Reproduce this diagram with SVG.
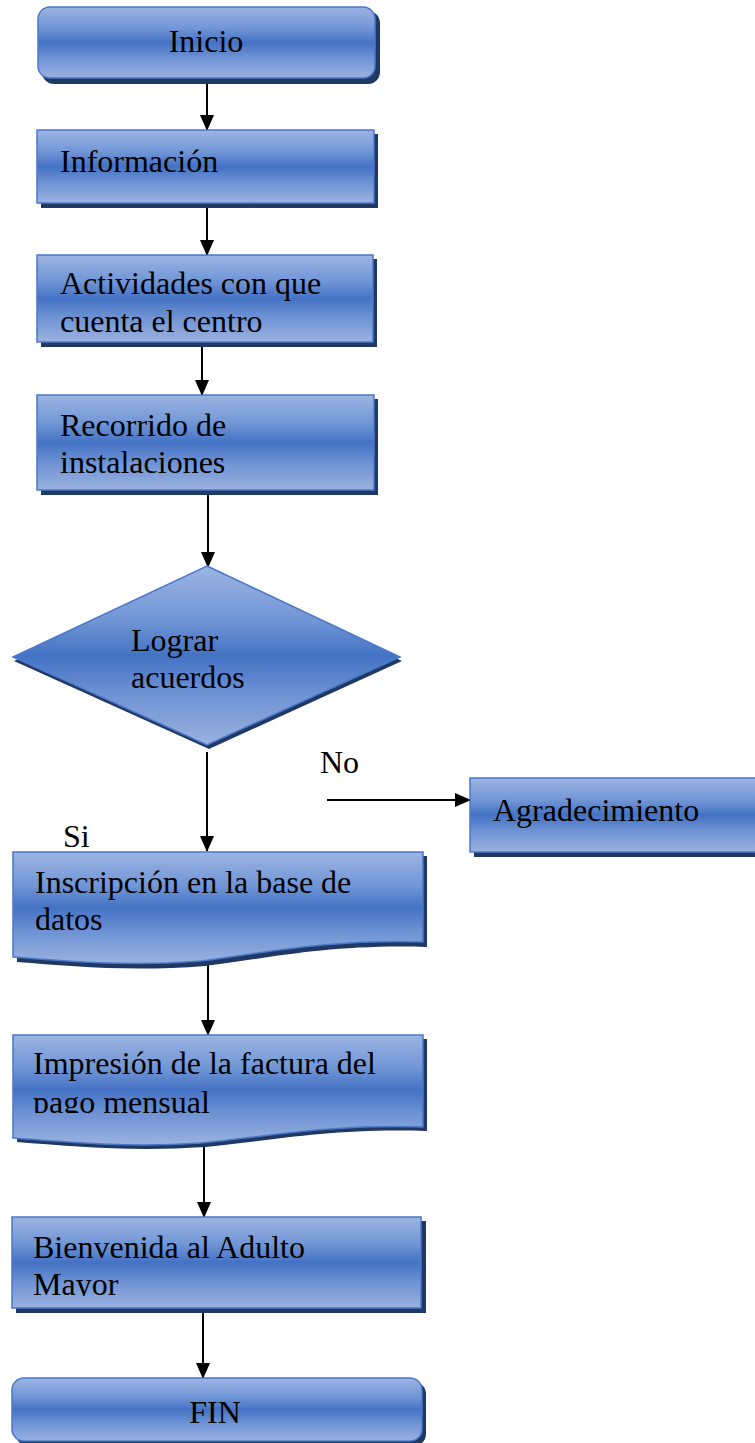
<svg xmlns="http://www.w3.org/2000/svg" width="755" height="1443" viewBox="0 0 755 1443">
<defs>
<linearGradient id="g" x1="0" y1="0" x2="0" y2="1">
<stop offset="0" stop-color="#9cb4e2"/>
<stop offset="0.3" stop-color="#7196d6"/>
<stop offset="0.5" stop-color="#4472c4"/>
<stop offset="0.72" stop-color="#6f93d4"/>
<stop offset="1" stop-color="#9ab2e0"/>
</linearGradient>
<marker id="arr" markerUnits="userSpaceOnUse" markerWidth="16" markerHeight="16" viewBox="0 0 16 16" refX="15" refY="8" orient="auto">
<path d="M0,1 L16,8 L0,15 Z" fill="#000"/>
</marker>
<clipPath id="c1"><rect x="13" y="1035" width="410" height="78"/></clipPath>
<clipPath id="c2"><rect x="12" y="1217" width="410" height="79"/></clipPath>
</defs>
<style>
.sh{fill:#1f3864}
.bx{fill:url(#g);stroke:#4a78c8;stroke-width:1.5}
.t{font-family:"Liberation Serif","Times New Roman",serif;font-size:32px;fill:#000}
.c{stroke:#000;stroke-width:2;fill:none;marker-end:url(#arr)}
</style>
<g id="connectors">
<line class="c" x1="207" y1="80" x2="207" y2="130"/>
<line class="c" x1="207" y1="207" x2="207" y2="255"/>
<line class="c" x1="202" y1="346" x2="202" y2="395"/>
<line class="c" x1="208" y1="494" x2="208" y2="567"/>
<line class="c" x1="207" y1="752" x2="207" y2="851"/>
<line class="c" x1="327" y1="800" x2="470" y2="800"/>
<line class="c" x1="208" y1="963" x2="208" y2="1035"/>
<line class="c" x1="204" y1="1143" x2="204" y2="1217"/>
<line class="c" x1="203" y1="1312" x2="203" y2="1378"/>
</g>
<g id="labels">
<text class="t" x="320" y="773">No</text>
<text class="t" x="63" y="847">Si</text>
</g>
<g id="inicio">
<rect class="sh" x="42" y="11" width="338" height="73" rx="12"/>
<rect class="bx" x="38" y="7" width="337" height="71" rx="12"/>
<text class="t" x="206" y="52" text-anchor="middle">Inicio</text>
</g>
<g id="informacion">
<rect class="sh" x="41" y="134" width="337" height="74"/>
<rect class="bx" x="37" y="130" width="337" height="73"/>
<text class="t" x="60" y="172">Información</text>
</g>
<g id="actividades">
<rect class="sh" x="41" y="259" width="336" height="88"/>
<rect class="bx" x="37" y="255" width="336" height="87"/>
<text class="t" x="60" y="294">Actividades con que</text>
<text class="t" x="60" y="332">cuenta el centro</text>
</g>
<g id="recorrido">
<rect class="sh" x="41" y="399" width="337" height="96"/>
<rect class="bx" x="37" y="395" width="337" height="95"/>
<text class="t" x="60" y="436">Recorrido de</text>
<text class="t" x="60" y="473">instalaciones</text>
</g>
<g id="decision">
<polygon class="sh" points="207,571 402,661 209,749 14,661"/>
<polygon class="bx" points="207,566 400,657 207,745 13,657"/>
<text class="t" x="131" y="651">Lograr</text>
<text class="t" x="131" y="688">acuerdos</text>
</g>
<g id="agradecimiento">
<rect class="sh" x="474" y="782" width="290" height="75"/>
<rect class="bx" x="470" y="778" width="290" height="74"/>
<text class="t" x="493" y="821">Agradecimiento</text>
</g>
<g id="inscripcion">
<path class="sh" d="M17,856 H427 V947 C330,944 270,958 205,966 C130,972 70,966 17,962 Z"/>
<path class="bx" d="M13,852 H423 V942 C326,939 266,953 201,961 C126,967 66,961 13,957 Z"/>
<text class="t" x="35" y="893">Inscripción en la base de</text>
<text class="t" x="35" y="930">datos</text>
</g>
<g id="impresion">
<path class="sh" d="M17,1039 H427 V1131 C330,1128 270,1141 205,1147 C130,1152 70,1146 17,1142 Z"/>
<path class="bx" d="M13,1035 H423 V1127 C326,1124 266,1137 201,1143 C126,1148 66,1142 13,1138 Z"/>
<g clip-path="url(#c1)">
<text class="t" x="33" y="1074">Impresión de la factura del</text>
<text class="t" x="33" y="1113">pago mensual</text>
</g>
</g>
<g id="bienvenida">
<rect class="sh" x="16" y="1221" width="410" height="92"/>
<rect class="bx" x="12" y="1217" width="409" height="91"/>
<g clip-path="url(#c2)">
<text class="t" x="33" y="1258">Bienvenida al Adulto</text>
<text class="t" x="33" y="1295">Mayor</text>
</g>
</g>
<g id="fin">
<rect class="sh" x="16" y="1382" width="410" height="64" rx="12"/>
<rect class="bx" x="12" y="1378" width="410" height="63" rx="12"/>
<text class="t" x="215" y="1423" text-anchor="middle">FIN</text>
</g>
</svg>
